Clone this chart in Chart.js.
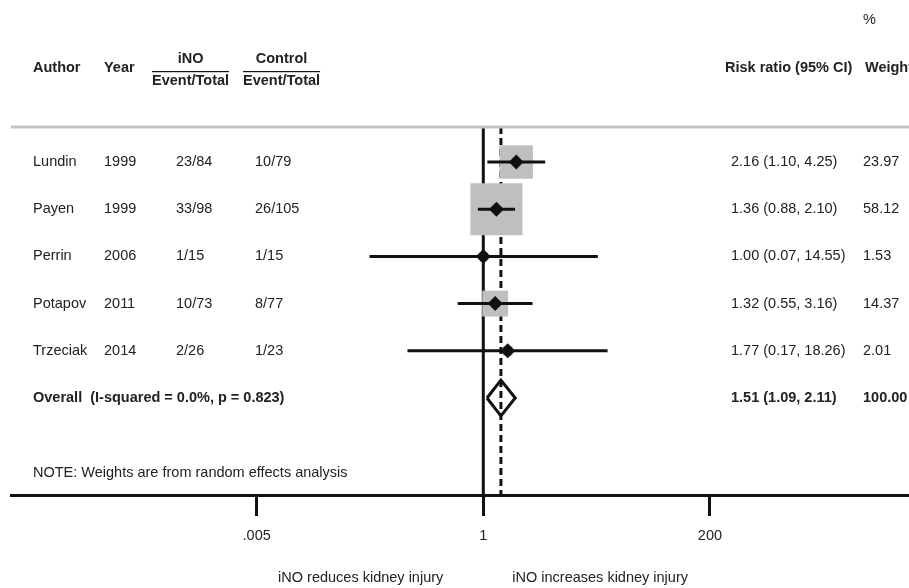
<!DOCTYPE html>
<html>
<head>
<meta charset="utf-8">
<script src="https://cdn.jsdelivr.net/npm/chart.js@4.4.1/dist/chart.umd.min.js"></script>
<style>
  html, body { margin: 0; padding: 0; background: #ffffff; }
  #wrap { width: 909px; height: 588px; position: relative; }
</style>
</head>
<body>
<div id="wrap"><canvas id="c" width="909" height="588"></canvas></div>
<script>
// ---------- data ----------
const authors = ['Lundin', 'Payen', 'Perrin', 'Potapov', 'Trzeciak'];
const years = ['1999', '1999', '2006', '2011', '2014'];
const inoEvents = [23, 33, 1, 10, 2];
const inoTotals = [84, 98, 15, 73, 26];
const ctrlEvents = [10, 26, 1, 8, 1];
const ctrlTotals = [79, 105, 15, 77, 23];
const riskRatios = [2.16, 1.36, 1.00, 1.32, 1.77];
const lowerCI = [1.10, 0.88, 0.07, 0.55, 0.17];
const upperCI = [4.25, 2.10, 14.55, 3.16, 18.26];
const weights = [23.97, 58.12, 1.53, 14.37, 2.01];
const overallRR = 1.51;
const overallLower = 1.09;
const overallUpper = 2.11;
const overallI2 = '0.0%';
const overallP = '0.823';
const tickValues = [0.005, 1, 200];
const tickLabels = ['.005', '1', '200'];

// ---------- layout constants ----------
const X_MIN = Math.pow(10, -4.795);
const X_MAX = Math.pow(10, 4.322);
const Y_MIN = -2.432;
const Y_MAX = 8.055;
const SEP_ROW = 0.26;
const OVERALL_ROW = authors.length + 1;
const NOTE_ROW = 7.59;
const DIAMOND_HALF = 0.38;
const FONT = "'Liberation Sans', Arial, Helvetica, sans-serif";
const FS = 14.5;
const TXT = '#222222';
const INK = '#111111';

const fmt2 = v => v.toFixed(2);

// ---------- datasets ----------
const rows = authors.map((a, i) => i + 1);
const datasets = [];

// separator
datasets.push({
  type: 'line', data: [{x: X_MIN, y: SEP_ROW}, {x: X_MAX, y: SEP_ROW}],
  borderColor: '#c4c4c4', borderWidth: 3, pointRadius: 0, order: 3
});
// null line
datasets.push({
  type: 'line', data: [{x: 1, y: SEP_ROW}, {x: 1, y: Y_MAX}],
  borderColor: INK, borderWidth: 3, pointRadius: 0, order: 3
});
// overall dashed line
datasets.push({
  type: 'line', data: [{x: overallRR, y: SEP_ROW}, {x: overallRR, y: Y_MAX}],
  borderColor: INK, borderWidth: 3, borderDash: [7, 4], pointRadius: 0, order: 3
});
// weight boxes
datasets.push({
  type: 'scatter',
  data: riskRatios.map((v, i) => ({x: v, y: rows[i]})),
  pointStyle: 'rect',
  pointRadius: ctx => 4.82 * Math.sqrt(weights[ctx.dataIndex] || 0),
  backgroundColor: '#bfbfbf', borderWidth: 0, order: 2
});
// CI lines
riskRatios.forEach((v, i) => {
  datasets.push({
    type: 'line', data: [{x: lowerCI[i], y: rows[i]}, {x: upperCI[i], y: rows[i]}],
    borderColor: INK, borderWidth: 3, pointRadius: 0, order: 1
  });
});
// point estimates
datasets.push({
  type: 'scatter',
  data: riskRatios.map((v, i) => ({x: v, y: rows[i]})),
  pointStyle: 'rectRot', pointRadius: 7.5,
  backgroundColor: INK, borderColor: INK, borderWidth: 0, order: 0
});
// overall diamond
datasets.push({
  type: 'line',
  data: [
    {x: overallLower, y: OVERALL_ROW},
    {x: overallRR, y: OVERALL_ROW - DIAMOND_HALF},
    {x: overallUpper, y: OVERALL_ROW},
    {x: overallRR, y: OVERALL_ROW + DIAMOND_HALF},
    {x: overallLower, y: OVERALL_ROW}
  ],
  borderColor: INK, borderWidth: 3, pointRadius: 0, fill: false,
  borderJoinStyle: 'miter', order: 0
});

// ---------- text plugin ----------
const textPlugin = {
  id: 'forestText',
  afterDatasetsDraw(chart) {
    const ctx = chart.ctx;
    const ys = chart.scales.y;
    const xs = chart.scales.x;
    const rowY = r => ys.getPixelForValue(r);
    ctx.save();
    ctx.textBaseline = 'middle';
    ctx.fillStyle = TXT;
    const reg = FS + 'px ' + FONT;
    const bold = 'bold ' + FS + 'px ' + FONT;

    const colAuthor = 33, colYear = 104, colIno = 152, colCtrl = 243;
    const colInoData = 176, colCtrlData = 255, colRR = 731, colW = 863;
    const colRRHead = 725;

    // header
    const hy = rowY(-1);
    ctx.font = reg;
    ctx.textAlign = 'left';
    ctx.fillText('%', colW, rowY(-2));
    ctx.font = bold;
    ctx.fillText('Author', colAuthor, hy);
    ctx.fillText('Year', colYear, hy);
    ctx.fillText('Risk ratio (95% CI)', colRRHead, hy);
    ctx.fillText('Weight', colW + 2, hy);
    const evW = ctx.measureText('Event/Total').width;
    [[colIno, 'iNO'], [colCtrl, 'Control']].forEach(([cx, lab]) => {
      ctx.textAlign = 'left';
      ctx.fillText('Event/Total', cx, hy + 13);
      ctx.textAlign = 'center';
      ctx.fillText(lab, cx + evW / 2, hy - 9);
      ctx.fillStyle = INK;
      ctx.fillRect(cx, Math.round(hy + 3), evW, 1.2);
      ctx.fillStyle = TXT;
    });

    // study rows
    ctx.textAlign = 'left';
    authors.forEach((a, i) => {
      const y = rowY(rows[i]);
      ctx.font = reg;
      ctx.fillText(a, colAuthor, y);
      ctx.fillText(years[i], colYear, y);
      ctx.fillText(inoEvents[i] + '/' + inoTotals[i], colInoData, y);
      ctx.fillText(ctrlEvents[i] + '/' + ctrlTotals[i], colCtrlData, y);
      ctx.fillText(fmt2(riskRatios[i]) + ' (' + fmt2(lowerCI[i]) + ', ' + fmt2(upperCI[i]) + ')', colRR, y);
      ctx.fillText(fmt2(weights[i]), colW, y);
    });

    // overall
    const oy = rowY(OVERALL_ROW);
    ctx.font = bold;
    ctx.fillText('Overall  (I-squared = ' + overallI2 + ', p = ' + overallP + ')', colAuthor, oy);
    ctx.fillText(fmt2(overallRR) + ' (' + fmt2(overallLower) + ', ' + fmt2(overallUpper) + ')', colRR, oy);
    const totalW = weights.reduce((s, w) => s + w, 0);
    ctx.fillText((Math.round(totalW)).toFixed(2), colW, oy);

    // note
    ctx.font = reg;
    ctx.fillText('NOTE: Weights are from random effects analysis', colAuthor, rowY(NOTE_ROW));

    // direction labels
    const nullX = xs.getPixelForValue(1);
    const by = 578;
    ctx.textAlign = 'right';
    ctx.fillText('iNO reduces kidney injury', nullX - 40, by);
    ctx.textAlign = 'left';
    ctx.fillText('iNO increases kidney injury', nullX + 29, by);
    ctx.restore();
  }
};

Chart.defaults.font.family = FONT;
Chart.defaults.font.size = FS;
Chart.defaults.color = TXT;

new Chart(document.getElementById('c'), {
  type: 'scatter',
  data: { datasets },
  options: {
    responsive: false,
    animation: false,
    layout: { autoPadding: false, padding: { left: 11, right: 0, top: 0, bottom: 0 } },
    plugins: { legend: { display: false }, tooltip: { enabled: false } },
    scales: {
      x: {
        type: 'logarithmic',
        min: X_MIN, max: X_MAX,
        afterBuildTicks: scale => { scale.ticks = tickValues.map(v => ({ value: v })); },
        afterFit: scale => { scale.height = 93; },
        ticks: {
          autoSkip: false, maxRotation: 0, minRotation: 0, padding: 11,
          color: TXT, font: { size: FS, family: FONT },
          callback: (v, i) => tickLabels[i]
        },
        grid: {
          display: true, drawOnChartArea: false, drawTicks: true,
          tickLength: 21, tickWidth: 3, tickColor: INK, color: INK, lineWidth: 3
        },
        border: { display: true, width: 3, color: INK }
      },
      y: {
        type: 'linear', reverse: true, min: Y_MIN, max: Y_MAX, display: false
      }
    }
  },
  plugins: [textPlugin]
});
</script>
</body>
</html>
